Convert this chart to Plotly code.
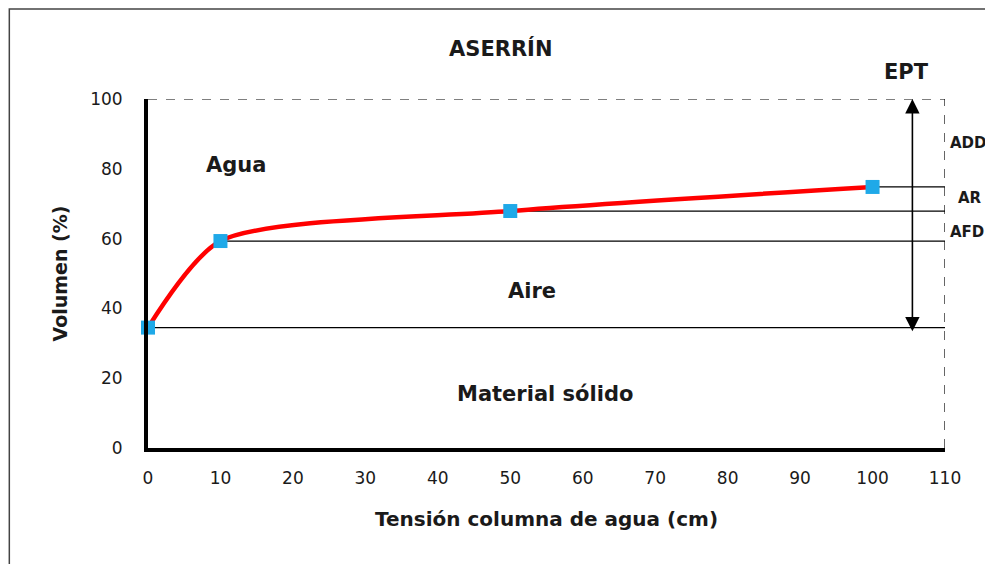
import plotly.graph_objects as go

# Data
tension = [0, 10, 50, 100]
volumen = [34.5, 59.3, 67.9, 74.8]
x_ticks = list(range(0, 111, 10))
y_ticks = list(range(0, 101, 20))

line_end = 110
arrow_x = 105.5
arrow_bottom = 33
arrow_top = 100

region_labels = ["Agua", "Aire", "Material sólido"]
region_x = [12.1, 53, 54.8]
region_y = [81, 45, 15.5]

side_labels = ["ADD", "AR", "AFD"]
side_x = [110.4, 111.5, 110.4]
side_y = [87.4, 71.6, 61.9]

FONT = "DejaVu Sans, Verdana, sans-serif"
TXT = "#1a1a1a"

fig = go.Figure()

# horizontal reference lines from each point to the right edge
for xv, yv in zip(tension, volumen):
    fig.add_trace(go.Scatter(x=[xv, line_end], y=[yv, yv], mode="lines",
                             line=dict(color="black", width=1.3),
                             showlegend=False, hoverinfo="skip", cliponaxis=False))

fig.add_trace(go.Scatter(
    x=tension, y=volumen, mode="lines+markers",
    line=dict(color="#FF0000", width=4.5, shape="spline", smoothing=0.7),
    marker=dict(symbol="square", size=14, color="#1FA9E8"),
    showlegend=False, cliponaxis=False))

fig.update_xaxes(range=[0, 110], tickvals=x_ticks, showgrid=False, zeroline=False,
                 showline=True, linecolor="black", linewidth=4, ticks="",
                 ticklabelstandoff=12,
                 tickfont=dict(size=17, color=TXT, family=FONT),
                 title=dict(text="<b>Tensión columna de agua (cm)</b>",
                            font=dict(size=20, color=TXT, family=FONT), standoff=26))
fig.update_yaxes(range=[0, 100], tickvals=y_ticks, showgrid=False, zeroline=False,
                 showline=True, linecolor="black", linewidth=4, ticks="",
                 ticklabelstandoff=18,
                 tickfont=dict(size=17, color=TXT, family=FONT),
                 title=dict(text="<b>Volumen (%)</b>",
                            font=dict(size=19, color=TXT, family=FONT), standoff=18))

shapes = [
    # dashed top and right frame
    dict(type="line", xref="x", yref="y", x0=0, x1=110, y0=100, y1=100,
         line=dict(color="black", width=1.2, dash="dash")),
    dict(type="line", xref="x", yref="y", x0=110, x1=110, y0=0, y1=100,
         line=dict(color="black", width=1.2, dash="dash")),
    # outer image border
    dict(type="rect", xref="paper", yref="paper", x0=-0.174, x1=1.3, y0=-0.6, y1=1.258,
         line=dict(color="#444", width=1.5)),
]

annotations = [
    dict(x=arrow_x, y=arrow_top, ax=arrow_x, ay=arrow_bottom, xref="x", yref="y",
         axref="x", ayref="y", text="", showarrow=True, arrowhead=2, startarrowhead=2,
         arrowside="end+start", arrowsize=1.8, startarrowsize=1.8, arrowwidth=1.6,
         arrowcolor="black"),
    dict(x=0.952, y=1.077, xref="paper", yref="paper", xanchor="center", yanchor="middle",
         text="<b>EPT</b>", showarrow=False, font=dict(size=21, color=TXT, family=FONT)),
    dict(x=0.442, y=1.146, xref="paper", yref="paper", xanchor="center", yanchor="middle",
         text="<b>ASERRÍN</b>", showarrow=False,
         font=dict(size=21, color=TXT, family=FONT)),
]
for t, xv, yv in zip(region_labels, region_x, region_y):
    annotations.append(dict(x=xv, y=yv, xref="x", yref="y", text="<b>" + t + "</b>",
                            xanchor="center", yanchor="middle",
                            showarrow=False, font=dict(size=21, color=TXT, family=FONT)))
for t, xv, yv in zip(side_labels, side_x, side_y):
    annotations.append(dict(x=xv / 110, y=yv / 100, xref="paper", yref="paper",
                            xanchor="left", yanchor="middle",
                            text="<b>" + t + "</b>", showarrow=False,
                            font=dict(size=15, color=TXT, family=FONT)))

fig.update_layout(width=993, height=564, margin=dict(l=140, r=56, t=91, b=124),
                  plot_bgcolor="white", paper_bgcolor="white",
                  shapes=shapes, annotations=annotations, dragmode=False)

fig.write_html("out.html")
